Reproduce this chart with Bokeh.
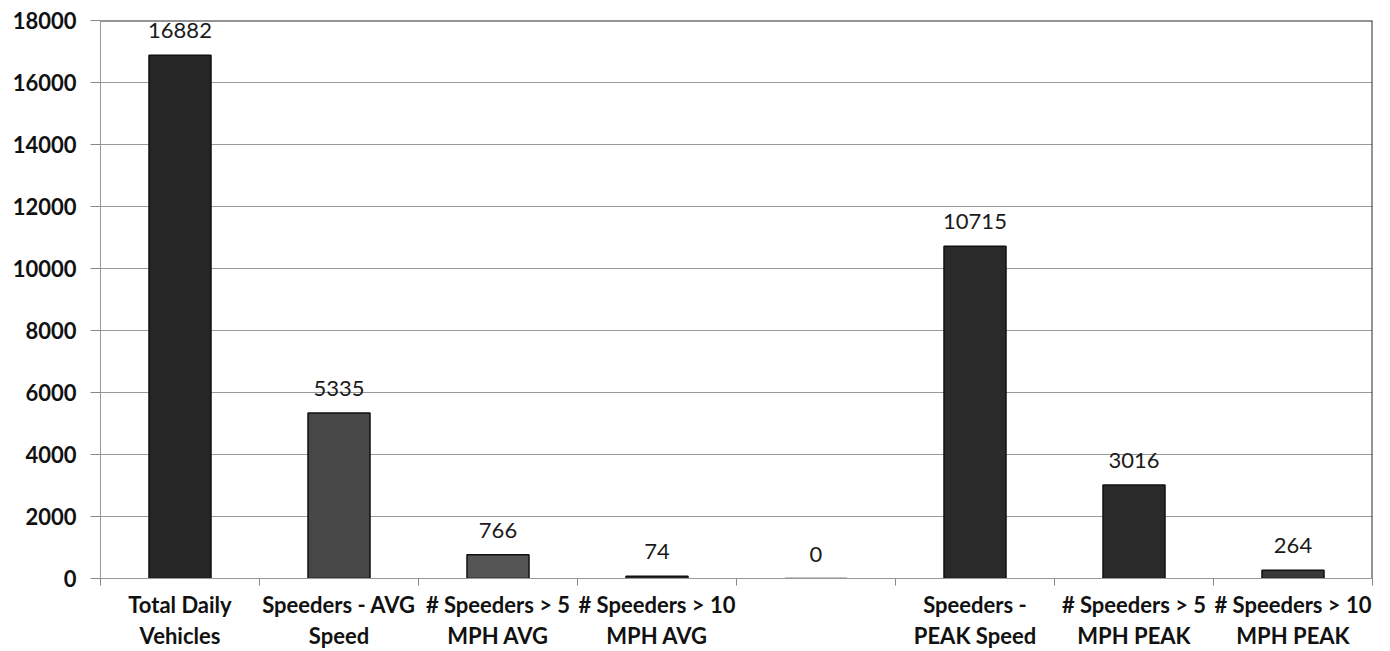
from bokeh.plotting import figure
from bokeh.models import ColumnDataSource, FixedTicker, Range1d, Span, LabelSet
from bokeh.core.properties import value
from bokeh.embed import file_html
from bokeh.resources import INLINE

categories = ["Total Daily\nVehicles", "Speeders - AVG\nSpeed", "# Speeders > 5\nMPH AVG",
              "# Speeders > 10\nMPH AVG", "", "Speeders -\nPEAK Speed",
              "# Speeders > 5\nMPH PEAK", "# Speeders > 10\nMPH PEAK"]
values = [16882, 5335, 766, 74, 0, 10715, 3016, 264]
value_labels = [str(v) for v in values]
y_ticks = [0, 2000, 4000, 6000, 8000, 10000, 12000, 14000, 16000, 18000]
bar_colors = ["#262626", "#474747", "#555555", "#333333", "#333333", "#2a2a2a", "#2a2a2a", "#383838"]

n = len(categories)
xs = [i + 0.5 for i in range(n)]
src = ColumnDataSource(dict(x=xs, top=values, color=bar_colors, label=value_labels))

FONT = "Lato"
p = figure(width=1390, height=651, output_backend="svg", toolbar_location=None,
           x_range=Range1d(0, n), y_range=Range1d(y_ticks[0], y_ticks[-1]),
           min_border_left=100, min_border_right=18, min_border_top=20, min_border_bottom=73)
p.background_fill_color = "white"
p.border_fill_color = "white"
p.outline_line_color = None

p.vbar(x="x", top="top", width=0.39, bottom=0, source=src, fill_color="color",
       line_color="#111111", line_width=1.5)

labels = LabelSet(x="x", y="top", text="label", source=src, text_align="center",
                  text_baseline="bottom", y_offset=17, text_font=value(FONT),
                  text_font_size="22px", text_color="#1a1a1a")
p.add_layout(labels)

# x axis: labels at centers, boundary ticks as minor ticks
p.xaxis.ticker = FixedTicker(ticks=xs, minor_ticks=list(range(n + 1)))
p.xaxis.major_label_overrides = {x: c if c else " " for x, c in zip(xs, categories)}
p.xaxis.major_tick_out = 0
p.xaxis.major_tick_in = 0
p.xaxis.minor_tick_out = 7
p.xaxis.minor_tick_in = 0
p.xaxis.minor_tick_line_color = "#888888"
p.xaxis.axis_line_color = "#999999"
p.xaxis.major_label_text_font = FONT
p.xaxis.major_label_text_font_style = "bold"
p.xaxis.major_label_text_font_size = "22px"
p.xaxis.major_label_text_color = "#111111"
p.xaxis.major_label_text_line_height = 1.15
p.xaxis.major_label_standoff = 5

p.yaxis.ticker = FixedTicker(ticks=y_ticks, minor_ticks=[])
p.yaxis.major_tick_out = 10
p.yaxis.major_tick_in = 0
p.yaxis.major_tick_line_color = "#888888"
p.yaxis.axis_line_color = "#999999"
p.yaxis.major_label_text_font = FONT
p.yaxis.major_label_text_font_style = "bold"
p.yaxis.major_label_text_font_size = "22px"
p.yaxis.major_label_text_color = "#111111"
p.yaxis.major_label_standoff = 14

p.xgrid.grid_line_color = None
p.ygrid.ticker = FixedTicker(ticks=y_ticks[1:-1])
p.ygrid.grid_line_color = "#9a9a9a"
p.ygrid.grid_line_width = 1

p.add_layout(Span(location=y_ticks[-1], dimension="width", line_color="#2a2a2a", line_width=2))
p.add_layout(Span(location=n, dimension="height", line_color="#2a2a2a", line_width=2))

open("out.html", "w").write(file_html(p, INLINE))
